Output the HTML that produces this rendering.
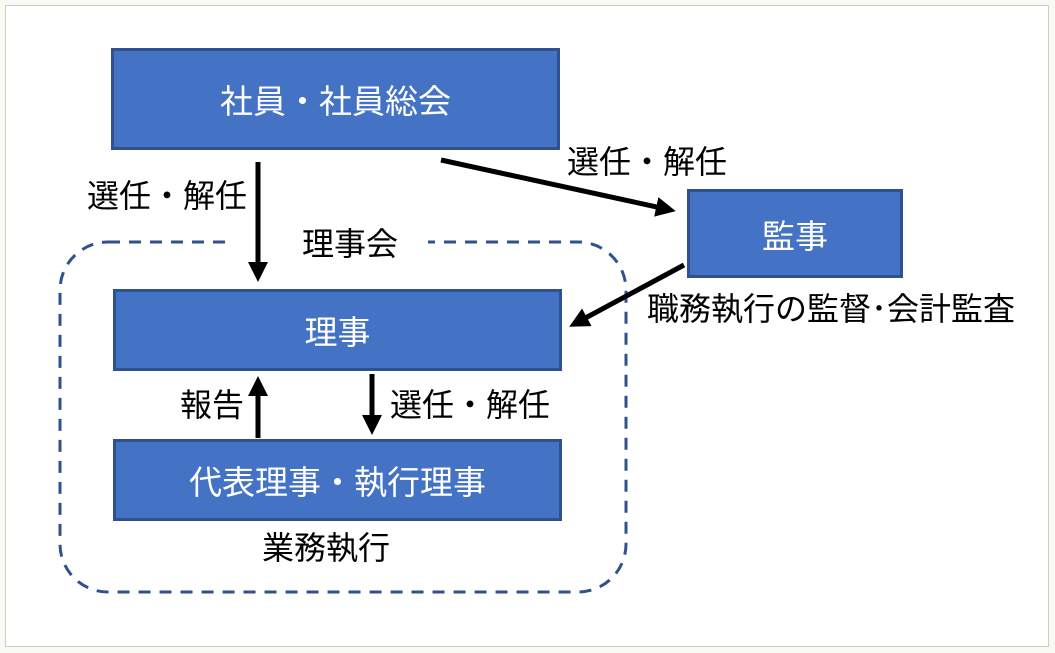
<!DOCTYPE html>
<html><head><meta charset="utf-8"><style>
body{margin:0;width:1055px;height:653px;background:#faf9f3;overflow:hidden;font-family:"Liberation Sans","Noto Sans CJK JP",sans-serif;}
.frame{position:absolute;left:5px;top:5px;width:1042px;height:640px;background:#fff;border:1px solid #ccc;}
.box{position:absolute;background:#4472c4;border:3px solid #2f528f;box-sizing:border-box;color:#fff;font-size:33px;display:flex;align-items:center;justify-content:center;}
.t{position:absolute;font-size:32px;color:#000;white-space:nowrap;line-height:1;}
</style></head><body>
<div class="frame"></div>
<svg width="1055" height="653" style="position:absolute;left:0;top:0">
<defs><marker id="a" markerWidth="4" markerHeight="4" refX="2" refY="2" orient="auto" markerUnits="strokeWidth"><path d="M0,0 L4,2 L0,4z" fill="#000"/></marker></defs>
<rect x="60" y="242" width="566" height="350" rx="48" fill="none" stroke="#2f528f" stroke-width="3" stroke-dasharray="12,9"/>
<rect x="228" y="228" width="200" height="28" fill="#fff"/>
<line x1="258" y1="162" x2="258" y2="272" stroke="#000" stroke-width="5" marker-end="url(#a)"/>
<line x1="441" y1="160" x2="666" y2="209" stroke="#000" stroke-width="5" marker-end="url(#a)"/>
<line x1="684" y1="265" x2="578" y2="322" stroke="#000" stroke-width="5" marker-end="url(#a)"/>
<line x1="258" y1="438" x2="258" y2="386" stroke="#000" stroke-width="5" marker-end="url(#a)"/>
<line x1="372" y1="374" x2="372" y2="425" stroke="#000" stroke-width="5" marker-end="url(#a)"/>
</svg>
<div class="box" style="left:111px;top:48px;width:449px;height:102px;">社員・社員総会</div>
<div class="box" style="left:113px;top:289px;width:449px;height:82px;">理事</div>
<div class="box" style="left:113px;top:439px;width:449px;height:82px;">代表理事・執行理事</div>
<div class="box" style="left:687px;top:189px;width:216px;height:89px;">監事</div>
<div class="t" style="left:87px;top:180px;">選任・解任</div>
<div class="t" style="left:302px;top:228px;">理事会</div>
<div class="t" style="left:567px;top:146px;">選任・解任</div>
<div class="t" style="left:647px;top:293px;">職務執行の監督･会計監査</div>
<div class="t" style="left:180px;top:389px;">報告</div>
<div class="t" style="left:390px;top:389px;">選任・解任</div>
<div class="t" style="left:262px;top:532px;">業務執行</div>
</body></html>
